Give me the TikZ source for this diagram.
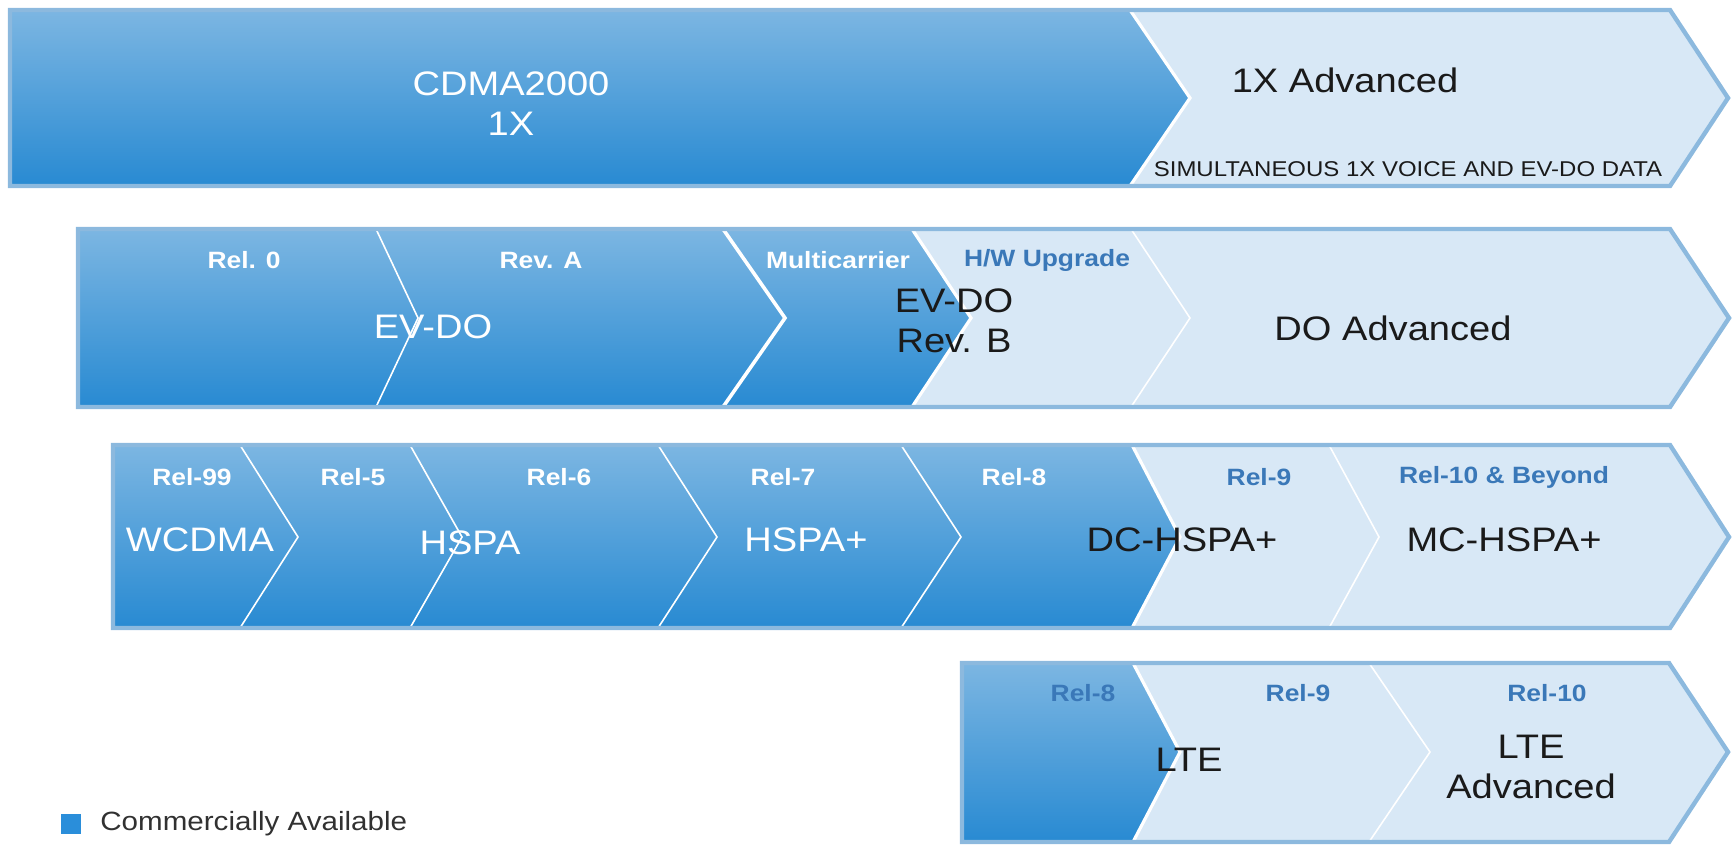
\documentclass[tikz,border=0pt]{standalone}
\usepackage{fontspec}
\setmainfont{Liberation Sans}[FakeStretch=1.12]
\definecolor{bluetop}{RGB}{124,182,226}
\definecolor{bluebot}{RGB}{40,138,210}
\definecolor{palefill}{RGB}{216,232,246}
\definecolor{rimblue}{RGB}{140,185,222}
\definecolor{labelblue}{RGB}{58,120,184}
\definecolor{legblue}{RGB}{42,142,218}
\definecolor{inkgray}{RGB}{26,26,26}

\begin{document}
\begin{tikzpicture}[x=0.5pt,y=-0.5pt,
    dark/.style={top color=bluetop,bottom color=bluebot},
    pale/.style={fill=palefill},
    rim/.style={draw=rimblue,line width=2.2pt,line join=miter},
    sep/.style={draw=white,line width=0.8pt},
    gap/.style={draw=white,line width=1.6pt},
    rel/.style={font=\bfseries\fontsize{11.8}{14}\selectfont,text=white},
    relb/.style={rel,text=labelblue},
    big/.style={font=\fontsize{17}{20}\selectfont,text=white,align=center},
    bigb/.style={big,text=inkgray}]
\useasboundingbox (0,0) rectangle (1732,845);

% CDMA2000 1X
\path[pale] (10,10) -- (1670,10) -- (1728,98) -- (1670,186) -- (10,186) -- cycle;
\path[dark] (10,10) -- (1130,10) -- (1190,98) -- (1130,186) -- (10,186) -- cycle;
\draw[gap] (1130,10) -- (1190,98) -- (1130,186);
\draw[rim] (10,10) -- (1670,10) -- (1728,98) -- (1670,186) -- (10,186) -- cycle;

% EV-DO
\path[pale] (78,229) -- (1670,229) -- (1729,318) -- (1670,407) -- (78,407) -- cycle;
\path[dark] (78,229) -- (912,229) -- (971,318) -- (912,407) -- (78,407) -- cycle;
\draw[sep] (376,229) -- (418,318) -- (376,407);
\draw[white,line width=1.8pt] (723,229) -- (785,318) -- (723,407);
\draw[gap] (912,229) -- (971,318) -- (912,407);
\draw[sep] (1131,229) -- (1190,318) -- (1131,407);
\draw[rim] (78,229) -- (1670,229) -- (1729,318) -- (1670,407) -- (78,407) -- cycle;

% WCDMA / HSPA
\path[pale] (113,445) -- (1670,445) -- (1729,537) -- (1670,628) -- (113,628) -- cycle;
\path[dark] (113,445) -- (1132,445) -- (1180,537) -- (1132,628) -- (113,628) -- cycle;
\foreach \a/\b in {240/298,410/462,658/717,901/961}
  \draw[sep] (\a,445) -- (\b,537) -- (\a,628);
\draw[gap] (1132,445) -- (1180,537) -- (1132,628);
\draw[sep] (1329,445) -- (1379,537) -- (1329,628);
\draw[rim] (113,445) -- (1670,445) -- (1729,537) -- (1670,628) -- (113,628) -- cycle;

% LTE
\path[pale] (962,663) -- (1669,663) -- (1728,752) -- (1669,842) -- (962,842) -- cycle;
\path[dark] (962,663) -- (1133,663) -- (1180,752) -- (1133,842) -- (962,842) -- cycle;
\draw[gap] (1133,663) -- (1180,752) -- (1133,842);
\draw[sep] (1369,663) -- (1430,752) -- (1369,842);
\draw[rim] (962,663) -- (1669,663) -- (1728,752) -- (1669,842) -- (962,842) -- cycle;

% labels
\node[big] (cdma) at (511,104) {CDMA2000\\1X};
\node[bigb] (adv1x) at (1345,80) {1X Advanced};
\node[font=\fontsize{10.7}{12}\selectfont,text=inkgray] (simul) at (1408,169) {SIMULTANEOUS 1X VOICE AND EV-DO DATA};

\node[rel] (rel0) at (244,260) {Rel. 0};
\node[rel] (revA) at (541,260) {Rev. A};
\node[rel] (multi) at (838,260) {Multicarrier};
\node[relb] (hwup) at (1047,260) {H/W Upgrade};
\node[big] (evdo) at (433,327) {EV-DO};
\node[bigb] (evdoB) at (954,321) {EV-DO\\Rev. B};
\node[bigb] (doadv) at (1393,328) {DO Advanced};

\node[rel] (r99) at (192,477) {Rel-99};
\node[rel] (r5) at (353,477) {Rel-5};
\node[rel] (r6) at (559,477) {Rel-6};
\node[rel] (r7) at (783,477) {Rel-7};
\node[rel] (r8) at (1014,477) {Rel-8};
\node[relb] (r9) at (1259,477) {Rel-9};
\node[relb] (r10) at (1504,477) {Rel-10 \& Beyond};
\node[big] (wcdma) at (200,540) {WCDMA};
\node[big] (hspa) at (470,543) {HSPA};
\node[big] (hspap) at (806,540) {HSPA+};
\node[bigb] (dchspa) at (1182,540) {DC-HSPA+};
\node[bigb] (mchspa) at (1504,540) {MC-HSPA+};

\node[relb] (lr8) at (1083,693) {Rel-8};
\node[relb] (lr9) at (1298,693) {Rel-9};
\node[relb] (lr10) at (1547,693) {Rel-10};
\node[bigb] (lte) at (1189,760) {LTE};
\node[bigb] (lteadv) at (1531,767) {LTE\\Advanced};

% legend
\node[fill=legblue,minimum size=10pt,inner sep=0pt] (legbox) at (71,824) {};
\node[anchor=west,inner sep=0pt,font=\fontsize{13.2}{15}\selectfont,text=inkgray!90!white] (legtext) at (100,824) {Commercially Available};
\end{tikzpicture}
\end{document}
